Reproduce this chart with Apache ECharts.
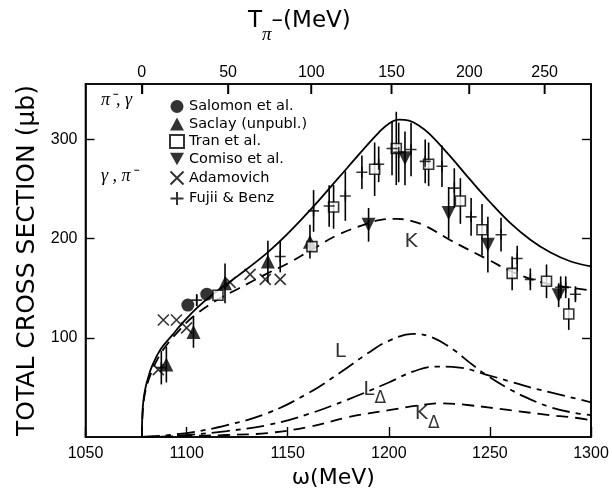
<!DOCTYPE html>
<html>
<head>
<meta charset="utf-8">
<script src="https://cdn.jsdelivr.net/npm/echarts@6/dist/echarts.min.js"></script>
<style>
html, body { margin: 0; padding: 0; background: #fff; }
#chart { width: 612px; height: 490px; }
</style>
</head>
<body>
<div id="chart"></div>
<script>
var myChart = echarts.init(document.getElementById("chart"));

// pion kinetic energy (lab) tick labels for the top axis
var topTicks = [0, 50, 100, 150, 200, 250];
var yTicks = [100, 200, 300];
var Y_MAX = 356;

// theory curves [omega (MeV), sigma (mu b)]
var curveTotal = [[1077.9, 0], [1078.1, 22], [1078.6, 36], [1079.5, 48], [1081, 60], [1083, 72], [1087, 88],
    [1093, 103], [1098, 115], [1105, 130], [1113, 144], [1125, 162], [1140, 186], [1150, 205],
    [1163, 233], [1175, 261], [1187, 289], [1195, 307], [1200, 316], [1205, 320], [1210, 319], [1215, 314],
    [1220, 306], [1230, 284], [1240, 260], [1250, 237], [1260, 216], [1270, 199], [1280, 186], [1290, 177],
    [1300, 172]];
var curveK = [[1077.9, 0], [1078.3, 25], [1079.5, 45], [1082, 62], [1086, 80], [1091, 95], [1097, 109],
    [1103, 121], [1114, 137], [1126, 150], [1139, 164], [1151, 176], [1162, 189], [1175, 204], [1189, 215],
    [1196, 219], [1204, 220], [1211, 218], [1219, 212], [1230, 199], [1249, 179], [1264, 164], [1280, 154],
    [1300, 148]];
var curveL = [[1077.9, 0], [1100, 4], [1120, 12], [1140, 24], [1160, 44], [1176, 65], [1190, 85], [1200, 97],
    [1212, 104], [1222, 100], [1232, 88], [1240, 75], [1248, 63], [1260, 48], [1270, 38], [1280, 30],
    [1290, 25], [1300, 22]];
var curveLDelta = [[1077.9, 0], [1100, 2], [1120, 6], [1140, 12], [1160, 23], [1180, 38], [1200, 55],
    [1212, 66], [1224, 71], [1235, 70], [1248, 63], [1260, 56], [1270, 50], [1280, 45], [1290, 40], [1300, 35]];
var curveKDelta = [[1077.9, 0], [1100, 1], [1120, 2], [1140, 4], [1160, 10], [1180, 20], [1200, 27],
    [1215, 32], [1226, 34], [1240, 32], [1260, 27], [1280, 22], [1290, 20], [1300, 17]];

// measurements [omega, sigma, error]
var salomon = [[1100.6, 133, 0], [1110, 144, 0]];
var saclay = [[1090, 73, 18], [1103.4, 106, 16], [1119, 155, 20], [1140.2, 177, 21], [1161, 197, 17]];
var tran = [[1115.5, 143, 0], [1162, 192, 0], [1172.7, 232, 22], [1193, 270, 27], [1203.7, 291, 37],
    [1219.7, 275, 22], [1235.4, 238, 23], [1246.1, 209, 26], [1261, 165, 17], [1278, 157, 17], [1289, 124, 16]];
var comiso = [[1190, 214, 17], [1208, 281, 27], [1229.6, 226, 26], [1249, 194, 28], [1284, 143, 12]];
var adamovich = [[1086, 68], [1088.5, 118], [1095, 118], [1100, 110], [1121.5, 156], [1131.4, 164],
    [1138.9, 159], [1146.3, 159]];
var fujiiBenz = [[1087.5, 70, 17], [1105, 138, 6], [1146.3, 182, 16], [1162.8, 228, 21], [1170.5, 233, 21],
    [1178.5, 243, 25], [1186.7, 267, 17], [1195, 275, 18], [1201.6, 291, 27], [1204.9, 287, 30],
    [1211, 290, 27], [1218, 278, 22], [1226.3, 273, 21], [1232.4, 251, 20], [1240.7, 222, 19],
    [1255.5, 204, 17], [1263.5, 180, 13], [1270, 159, 11], [1285, 151, 11], [1287.5, 151, 11], [1292.3, 144, 8]];

var curveLabels = [[1211, 197, 'K'], [1176, 86, 'L'], [1193, 44, 'LD'], [1219, 19, 'KD']];

// pi- p kinematics: W from lab kinetic energy and back
var M_PI = 139.57, M_P = 938.27;
function wFromT(t) { return Math.sqrt((M_PI + M_P) * (M_PI + M_P) + 2 * M_P * t); }
function tFromW(w) { return (w * w - (M_PI + M_P) * (M_PI + M_P)) / (2 * M_P); }

var FONT = 'Liberation Sans';
var WIDE = 'DejaVu Sans';
var CROSS = 'path://M0,0L10,10M10,0L0,10';
var PLUS = 'path://M5,0L5,10M0,5L10,5';
var DOWN = 'path://M0,0L10,0L5,9Z';

function curve(name, data, dash) {
    return {
        name: name, type: 'line', data: data, smooth: 0.4,
        showSymbol: false, silent: true, z: 2,
        lineStyle: { color: '#000', width: 1.8, type: dash }
    };
}

function errorBars(data) {
    return {
        type: 'custom', data: data, z: 3, silent: true,
        encode: { x: 0, y: 1 },
        renderItem: function (params, api) {
            var x = api.value(0), y = api.value(1), e = api.value(2);
            var lo = api.coord([x, y - e]), hi = api.coord([x, y + e]);
            return {
                type: 'line',
                shape: { x1: lo[0], y1: lo[1], x2: hi[0], y2: hi[1] },
                style: { stroke: '#000', lineWidth: 1.6 }
            };
        }
    };
}

// inward ticks of the top (pion kinetic energy) axis, placed through the omega scale
var topTickData = topTicks.map(function (t) { return [wFromT(t), Y_MAX]; });
var topTickSeries = {
    type: 'custom', data: topTickData, clip: false,
    encode: { x: 0, y: 1 },
    renderItem: function (params, api) {
        var p = api.coord([api.value(0), api.value(1)]);
        return {
            type: 'line',
            shape: { x1: p[0], y1: p[1], x2: p[0], y2: p[1] + 10 },
            style: { stroke: '#000', lineWidth: 1.4 }
        };
    }
};
var topTickMarks = {
    type: 'scatter', data: topTickData, clip: false, silent: true, z: 6,
    symbol: 'rect', symbolSize: [1.4, 10], symbolOffset: [0, 5],
    itemStyle: { color: '#000' }
};

function points(name, data, symbol, size, filled) {
    return {
        name: name, type: 'scatter', data: data, symbol: symbol, symbolSize: size, z: 4,
        itemStyle: filled ? { color: '#000' } : { color: filled === null ? 'none' : '#fff', borderColor: '#000', borderWidth: 1.6 }
    };
}

var rich = {
    m: { fontFamily: WIDE, fontSize: 20, lineHeight: 20, verticalAlign: 'top', color: '#000' },
    d: { fontFamily: WIDE, fontSize: 17, lineHeight: 28, verticalAlign: 'bottom', color: '#000' }
};

function frameLine() {
    return { show: true, onZero: false, lineStyle: { color: '#000', width: 1.6 } };
}
function ticks(len, values) {
    var t = { show: true, inside: true, length: len, lineStyle: { color: '#000', width: 1.4 } };
    if (values) t.customValues = values;
    return t;
}

option = {
    animation: false,
    backgroundColor: '#fff',
    grid: {
        left: 85.5, right: 21, top: 84, bottom: 53, outerBoundsContain: 'axisLabel',
        show: true, borderColor: '#000', borderWidth: 1.6, backgroundColor: 'transparent'
    },
    legend: {
        orient: 'vertical', left: 163, top: 94, itemGap: 2.5, itemWidth: 14, itemHeight: 13,
        textStyle: { fontFamily: WIDE, fontSize: 14.5, color: '#000' },
        data: ['Salomon et al.', 'Saclay (unpubl.)', 'Tran et al.', 'Comiso et al.', 'Adamovich', 'Fujii & Benz']
    },
    graphic: [
        { type: 'text', left: 101, top: 91, style: { text: 'π⁻, γ', font: 'italic 18px "Liberation Serif"', fill: '#000' } },
        { type: 'text', left: 101, top: 167, style: { text: 'γ , π⁻', font: 'italic 18px "Liberation Serif"', fill: '#000' } },
        {
            type: 'text', left: 248, top: 10,
            style: {
                text: '{t|T}{p|π}{t|–(MeV)}',
                rich: {
                    t: { fontFamily: WIDE, fontSize: 23, lineHeight: 23, verticalAlign: 'top', fill: '#000' },
                    p: { fontFamily: 'Liberation Serif', fontStyle: 'italic', fontSize: 19, lineHeight: 34, verticalAlign: 'bottom', fill: '#000' }
                }
            }
        }
    ],
    xAxis: [{
        type: 'value', position: 'bottom', min: 1050, max: 1300, interval: 50,
        name: 'ω(MeV)', nameLocation: 'middle', nameGap: 22,
        nameTextStyle: { fontFamily: WIDE, fontSize: 22, color: '#000', padding: [0, 10, 0, 0] },
        axisLine: frameLine(),
        axisTick: ticks(10),
        axisLabel: { fontFamily: FONT, fontSize: 16, color: '#000', margin: 9, formatter: function (v) { return String(v); } },
        splitLine: { show: false }
    }, {
        type: 'value', position: 'top', min: 1050, max: 1300,
        axisLine: frameLine(),
        axisTick: ticks(10, topTicks.map(wFromT)),
        axisLabel: {
            fontFamily: FONT, fontSize: 16, color: '#000', margin: 3,
            customValues: topTicks.map(wFromT),
            formatter: function (v) { return String(Math.round(tFromW(v))); }
        },
        splitLine: { show: false }
    }],
    yAxis: [{
        type: 'value', position: 'left', min: 0, max: Y_MAX,
        name: 'TOTAL CROSS SECTION (μb)', nameLocation: 'middle', nameGap: 46,
        nameTextStyle: { fontFamily: WIDE, fontSize: 25, color: '#000' },
        axisLine: frameLine(),
        axisTick: ticks(9, yTicks),
        axisLabel: { fontFamily: FONT, fontSize: 16, color: '#000', margin: 8, customValues: yTicks },
        splitLine: { show: false }
    }, {
        type: 'value', position: 'right', min: 0, max: Y_MAX,
        axisLine: frameLine(),
        axisTick: ticks(9, yTicks),
        axisLabel: { show: false },
        splitLine: { show: false }
    }],
    series: [
        topTickSeries,
        topTickMarks,
        curve('total', curveTotal, 'solid'),
        curve('K', curveK, [11, 7]),
        curve('L', curveL, [18, 6, 5, 6]),
        curve('LD', curveLDelta, [18, 6, 5, 6]),
        curve('KD', curveKDelta, [12, 7]),
        errorBars(saclay), errorBars(tran), errorBars(comiso), errorBars(fujiiBenz),
        points('Salomon et al.', salomon, 'circle', 13, true),
        points('Saclay (unpubl.)', saclay, 'triangle', 14, true),
        points('Tran et al.', tran, 'rect', 10, false),
        points('Comiso et al.', comiso, DOWN, 14, true),
        points('Adamovich', adamovich, CROSS, 11, null),
        points('Fujii & Benz', fujiiBenz, PLUS, 11, null),
        {
            type: 'scatter', data: curveLabels, symbol: 'circle', symbolSize: 0.5, silent: true, z: 5,
            itemStyle: { color: '#fff' },
            label: {
                show: true, position: 'inside', color: '#000',
                formatter: function (p) {
                    var s = p.data[2];
                    return s.length > 1 ? '{m|' + s[0] + '}{d|Δ}' : '{m|' + s + '}';
                },
                rich: rich
            }
        }
    ]
};

myChart.setOption(option);
</script>
</body>
</html>
